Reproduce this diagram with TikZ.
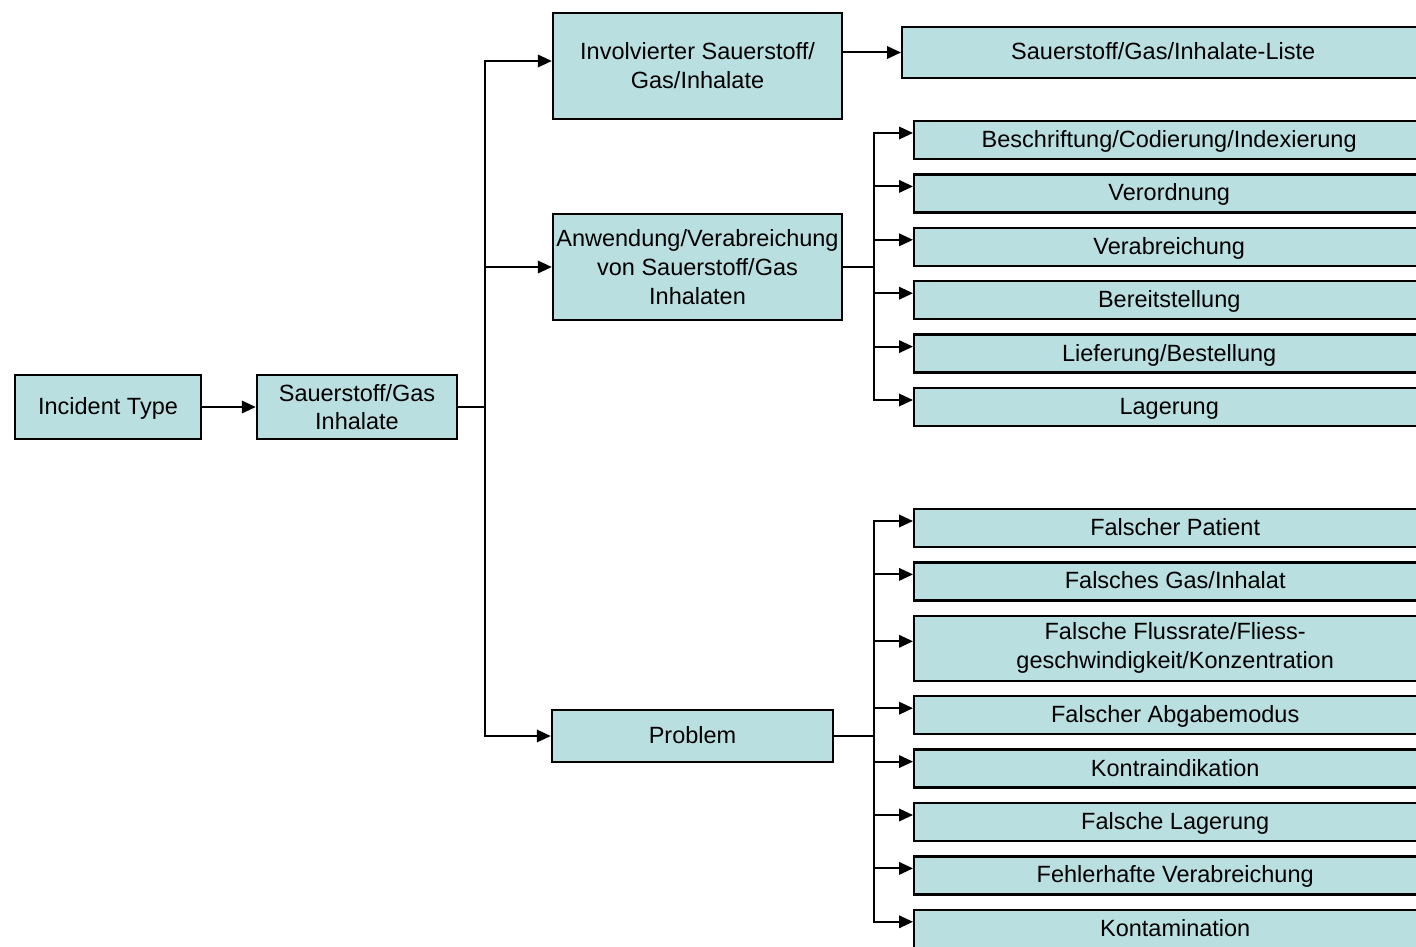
\documentclass[tikz,border=0pt]{standalone}
\usepackage{fontspec}
\setmainfont{Liberation Sans}
\usetikzlibrary{arrows.meta,positioning}
\definecolor{boxfill}{HTML}{B9DFE1}

\begin{document}
\begin{tikzpicture}[x=1pt,y=-1pt,>={Triangle[length=14pt,width=12.5pt]},line width=2pt,
                    node distance=13pt,
                    main node/.style={draw,fill=boxfill,align=center,inner sep=2pt,line width=2.4pt,
                      font=\fontsize{23.5}{28.8}\selectfont},
                    one line/.style={text height=20pt,text depth=5pt},
                    item node/.style={main node,one line,anchor=west,minimum width=510pt,minimum height=38pt},
                    wide node/.style={item node,minimum width=522pt}]
  \useasboundingbox (0,0) rectangle (1416,947);
  \clip (0,0) rectangle (1416,947);
  \node[main node,one line,minimum width=186pt,minimum height=64pt] (inc) at (108,407) {Incident Type};
  \node[main node,minimum width=200pt,minimum height=64pt] (sg) at (357,407) {Sauerstoff/Gas\\Inhalate};
  \node[main node,minimum width=289pt,minimum height=106pt] (inv) at (697.5,66) {Involvierter Sauerstoff/\\Gas/Inhalate};
  \node[main node,minimum width=289pt,minimum height=106pt] (anw) at (697.5,267) {Anwendung/Verabreichung\\von Sauerstoff/Gas\\Inhalaten};
  \node[main node,one line,minimum width=281pt,minimum height=52pt] (prob) at (692.5,736) {Problem};
  \node[wide node,minimum height=51pt] (list) at (901,52.5) {Sauerstoff/Gas/Inhalate-Liste};
  % Anwendung
  \node[item node] (a1) at (913,140) {Beschriftung/Codierung/Indexierung};
  \node[item node,below=of a1] (a2) {Verordnung};
  \node[item node,below=of a2] (a3) {Verabreichung};
  \node[item node,below=of a3] (a4) {Bereitstellung};
  \node[item node,below=of a4] (a5) {Lieferung/Bestellung};
  \node[item node,below=of a5] (a6) {Lagerung};
  % Problem
  \node[wide node] (p1) at (913,528) {Falscher Patient};
  \node[wide node,below=of p1] (p2) {Falsches Gas/Inhalat};
  \node[wide node,below=of p2,minimum height=65pt,text height=,text depth=] (p3) {Falsche Flussrate/Fliess-\\geschwindigkeit/Konzentration};
  \node[wide node,below=of p3] (p4) {Falscher Abgabemodus};
  \node[wide node,below=of p4] (p5) {Kontraindikation};
  \node[wide node,below=of p5] (p6) {Falsche Lagerung};
  \node[wide node,below=of p6] (p7) {Fehlerhafte Verabreichung};
  \node[wide node,below=of p7] (p8) {Kontamination};

  \coordinate (t) at (485,407);
  \coordinate (ta) at (874,267);
  \coordinate (tp) at (874,736);
  \draw[->] (inc) -- (sg);
  \draw (sg.east) -- (t);
  \draw[->] (t) |- ([yshift=5pt]inv.west);
  \draw[->] (t) |- (anw.west);
  \draw[->] (t) |- (prob.west);
  \draw[->] (list.west -| inv.east) -- (list.west);
  \draw (anw.east |- ta) -- (ta);
  \foreach \n in {a1,a2,a3,a4,a5,a6}
    \draw[->] (ta) |- ([yshift=7pt]\n.west);
  \draw (prob.east) -- (tp);
  \foreach \n in {p1,p2,p3,p4,p5,p6,p7,p8}
    \draw[->] (tp) |- ([yshift=7pt]\n.west);
\end{tikzpicture}
\end{document}
